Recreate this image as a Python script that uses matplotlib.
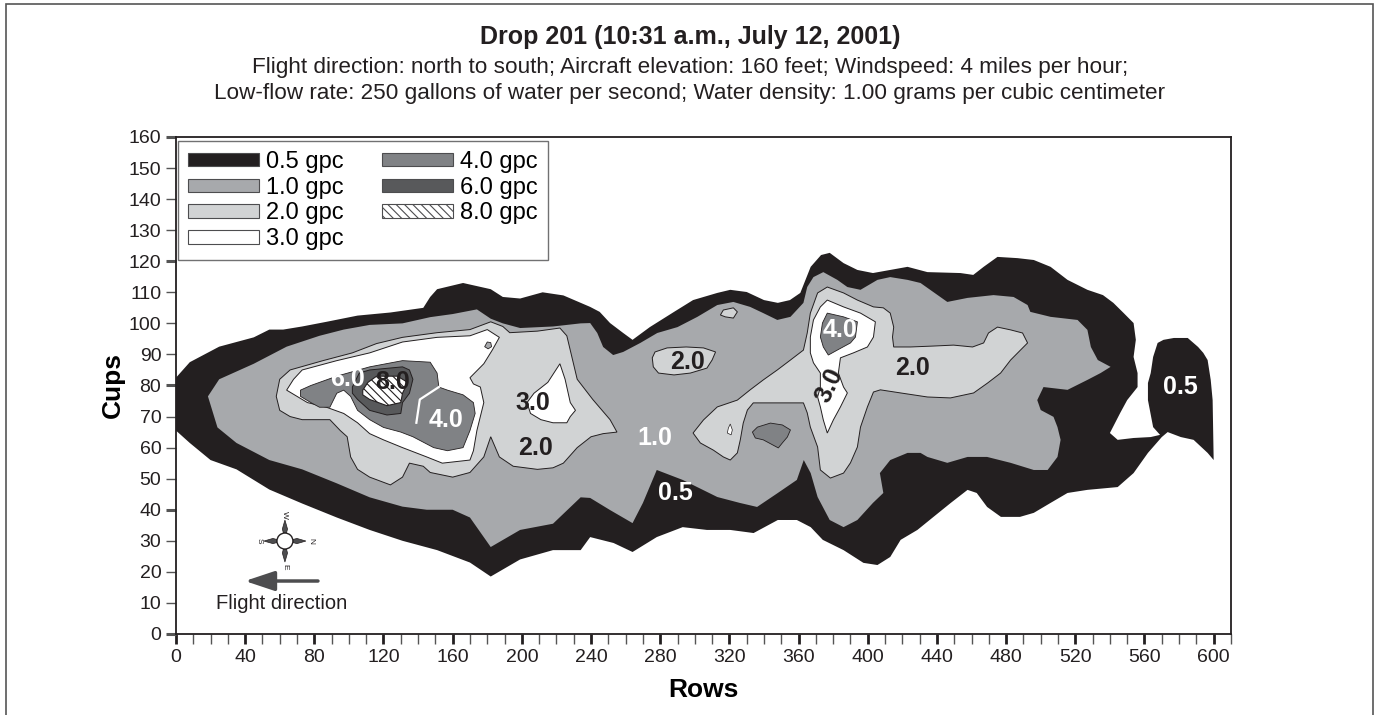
import matplotlib
matplotlib.use("Agg")
import matplotlib.pyplot as plt
from matplotlib.patches import Patch, Rectangle, Circle, Polygon

plt.rcParams["font.family"] = ["Liberation Sans", "DejaVu Sans"]
plt.rcParams["hatch.linewidth"] = 0.8

# ------------------------------------
# Contour outlines, (row, cup) pairs
# ------------------------------------
level_05 = [
    (0, 82.5), (8, 87.5), (25, 92.5), (45, 95.5), (54, 98), (62, 98), (73, 99), (87, 100.5),
    (105, 102.5), (124, 103.5), (143, 105), (147, 108.5), (151, 111), (166, 113), (182, 111),
    (189, 108.5), (199, 108), (212, 110), (224, 109), (239.5, 105.3), (245, 103.7), (251, 100.1),
    (258.6, 96.9), (264, 94.7), (274, 98.8), (288, 103.7), (299, 107.5), (313, 109.8),
    (320.5, 110.8), (330, 110.1), (340, 107.5), (348, 106.6), (355, 107.5), (361, 109.8),
    (367, 118.2), (373, 122), (378, 122.7), (386, 119.4), (394, 117.2), (403, 116.2),
    (413, 117.2), (423, 118.2), (434.5, 116.5), (453.6, 116.2), (461, 115.6), (467, 118.2),
    (475, 121.4), (486.6, 121), (496, 120.4), (505.7, 118.2), (515.5, 114), (527, 110.8),
    (536, 109.1), (542, 106.6), (548, 103.3), (553.7, 100.1), (555, 94.7), (553.7, 89.2),
    (556, 84), (556, 79.5), (550, 75.3), (546, 71.2), (540, 64.7), (544.5, 62.5),
    (553.7, 63.1), (563.6, 63.4), (569, 64.1),
    (565, 66.6), (562, 75.3), (562, 80.8), (563.6, 84), (565, 89.2), (567.6, 93.7),
    (571, 94.7), (577, 95.3), (585, 95.3), (591, 92.4), (594, 90.5), (596.5, 88.2),
    (598.3, 81.8), (599.4, 75.3), (600, 56), (596.5, 58.3), (588.4, 62.5), (581, 63.4),
    (573.4, 65), (570, 63.4),
    (562, 58.3), (553.7, 51.8), (544.5, 47.3), (527, 46.4), (515.5, 45.4), (505.7, 42.2),
    (496, 39), (488, 37.7), (477, 37.7), (469, 40.9), (463, 45.4), (457.7, 46.4), (448, 42.2),
    (438, 37.7), (428.7, 33.5), (419, 30.3), (413, 24.8), (405.6, 22.2), (397.5, 22.9),
    (386, 27), (374, 30.3), (367, 34.4), (359, 36.7), (348, 36.7), (334, 32.5), (320.5, 33.5),
    (307, 33.5), (293, 34.4), (278, 31.2), (264, 26.4), (253, 29.3), (239.5, 31.2),
    (234, 27), (218, 27), (199, 24), (182, 18.5), (170, 23), (151, 27), (131, 30),
    (112, 33.5), (93, 37.5), (73, 42), (54, 46.5), (35, 53), (20, 56), (8, 61.5), (0, 65.5),
]

level_10 = [
    (18.5, 76.5), (25, 82), (45, 87), (64, 92.5), (83, 96), (97, 98), (112, 99.5), (131, 100),
    (147, 102), (160, 103), (174, 104.5), (182, 101.5), (189, 100), (199, 98.5), (218, 99),
    (234, 100), (239.5, 100.1), (243.6, 96.9), (247, 92.4), (252.8, 89.8), (258.6, 90.8),
    (268.5, 93.7), (278.3, 96.9), (290, 98.8), (301.5, 102.1), (313, 105.9), (322.3, 106.9),
    (332, 105.3), (339.6, 103.3), (347.7, 101.1), (355.3, 102.1), (362.8, 106.6),
    (365, 111.7), (368.6, 114.9), (374.3, 116.5), (382.4, 114), (388.2, 111.7),
    (395.8, 110.8), (405.6, 114), (413, 114.9), (423, 114), (430.5, 113), (446, 106.9),
    (457.7, 108.2), (472.7, 109.1), (484.3, 108.5), (492.4, 105.9), (494, 103.7),
    (505.7, 102.1), (521.3, 101.1), (527, 97.9), (529, 92.4), (533, 88.2), (540.4, 86),
    (534.6, 84), (527, 81.8), (515.5, 78.6), (501.6, 79.5), (498, 75.3), (500, 72.1),
    (507.4, 69.9), (509.7, 66.6), (511.5, 62.5), (509.7, 57), (504, 52.8), (496, 52.8),
    (482.6, 55.1), (469, 57), (457.7, 57), (446, 55.1), (434.5, 57), (430.5, 58.3),
    (423, 58.3), (413, 56), (407, 51.8), (409, 45.4), (403, 42.2), (394, 36.7), (386, 34.4),
    (378, 36.7), (371, 44.1), (367, 51.8), (363, 56), (359, 49.6), (348, 45.4), (336, 40.9),
    (326, 42.2), (313, 44.1), (293, 49.6), (278, 52.8), (270, 42.2), (264, 35.7),
    (251, 39.9), (239.5, 43.8), (234, 44), (218, 35.5), (199, 33.5), (182, 28), (170, 37.5),
    (160, 40), (145, 40), (131, 41), (112, 44), (93, 48.5), (73, 53), (54, 56), (35, 61.5),
    (24, 66.5),
]

level_20_west = [
    (58, 76.5), (60, 82), (66, 85), (85, 88), (102, 90.5), (116, 93.5), (131, 95.5),
    (151, 97), (170, 98), (182, 100.5), (189, 99), (193, 97), (209, 97.5), (222, 98.5),
    (226, 96), (232, 82), (241, 75.5), (251, 69), (255, 65), (247, 64.5), (240, 63.5),
    (232, 60), (224, 55), (218, 53.5), (209, 53), (195, 54), (187, 57), (182, 63.5),
    (178, 57), (170, 52), (160, 50.5), (147, 52), (143, 54), (135, 55), (131, 50.5),
    (124, 48), (112, 50.5), (105, 53), (101, 57), (99, 63.5), (95, 65.5), (89, 69),
    (73, 69), (66, 70), (60, 72),
]

level_20_mid = [
    (275.4, 88.9), (277, 90.8), (284, 92.1), (295, 92.4), (305, 92.1), (312, 90.8),
    (310, 88.2), (307, 85.6), (297.4, 84), (288, 83.4), (279, 84), (276, 86),
]

level_20_dot = [
    (314.8, 102.7), (316.5, 104.3), (322.3, 105), (324.6, 103.7), (322.3, 101.7), (317.6, 102.1),
]

level_20_east = [
    (299, 64.7), (305, 68.9), (313, 73.1), (324.6, 75.3), (332, 78.6), (339.6, 81.8),
    (347.7, 85), (355.3, 88.2), (362.8, 91.4), (365, 96.9), (366.8, 103.3), (371, 109.8),
    (376.6, 111.7), (386, 109.8), (394, 107.5), (403.3, 105.3), (409, 105), (413, 103.3),
    (415, 98.8), (414.3, 95.6), (415, 92.4), (424.7, 92.4), (438, 92.7), (449.6, 93),
    (460.6, 92.4), (467, 93.7), (469.8, 96.9), (475, 98.8), (482.6, 97.9), (489.5, 96.9),
    (492.4, 93.7), (488.3, 91.4), (482.6, 88.2), (476.8, 84), (469.3, 80.8), (461.2, 77.6),
    (447.8, 76), (434.5, 76.3), (419, 77.6), (407.3, 78.6), (403.3, 77.9), (399.8, 73.1),
    (395.8, 66.6), (394, 60.2), (390, 55.1), (386, 51.8), (378.4, 50.2), (372.6, 52.8),
    (371, 60.2), (366.8, 66.6), (365, 71.2), (362.8, 74.4), (355.3, 74.4), (343.7, 74.4),
    (333.8, 74.4), (330.4, 72.1), (328, 67.9), (326.3, 62.5), (324.6, 58.3), (320.5, 56),
    (316.5, 57), (310.7, 59.2), (303.2, 61.5),
]

level_30_west = [
    (64, 78.5), (68, 82), (73, 85), (93, 88), (112, 90.5), (131, 94), (151, 95.5),
    (170, 96), (180, 98), (187, 95.5), (183, 91.5), (178, 87), (170, 82.5), (172, 80.5),
    (176, 79.5), (178, 74.5), (174, 65.5), (172, 59), (170, 56), (154, 55), (145, 57),
    (131, 60), (120, 62.5), (112, 64.5), (105, 68), (97, 71), (87, 73), (76, 74.5),
]

level_30_mid = [
    (203, 74.5), (207, 77.5), (215, 81), (222, 87), (225, 82), (228, 74.5), (231, 72),
    (228, 70), (226, 68), (218, 68), (211, 69), (205, 71),
]

level_30_east = [
    (366.8, 90.5), (366.8, 95.6), (368.6, 101.1), (372.6, 105.3), (376.6, 107.5),
    (386, 105.3), (395.8, 103.3), (404.4, 100.5), (403.3, 95.6), (399.8, 92.4),
    (391.7, 90.5), (384.2, 88.9), (383, 84), (386, 79.5), (388.2, 77.6), (384.2, 73.1),
    (380.1, 68.9), (376.6, 64.7), (374.3, 68.9), (372.6, 73.1), (371, 76.3), (372.6, 79.5),
    (372.6, 84), (368.6, 87.3),
]

level_30_sliver = [(318.8, 64.7), (319.4, 66.3), (320.5, 67.6), (321.7, 65.7), (321, 64.1)]

spot_10 = [(178.5, 92.5), (180, 94), (182, 93.8), (182.5, 92.5), (180.5, 91.8)]

level_40_west = [
    (72, 78.5), (78, 80), (93, 83), (112, 86), (131, 88), (147, 87.5), (151, 84),
    (152, 79.5), (157, 78.5), (166, 77), (172, 74.5), (173, 71), (170, 65.5), (166, 60),
    (157, 59), (149, 60), (137, 63.5), (130, 65), (120, 66.5), (112, 69), (105, 72),
    (101, 76.5), (97, 78.5), (93, 77.5), (89, 73), (83, 73), (78, 74.5), (72, 76.5),
]

level_40_east = [
    (372.6, 95.6), (373.8, 100.1), (376.6, 103.3), (386, 102.1), (394, 100.5), (392.9, 95.6),
    (390, 93.7), (382.4, 91.4), (377.2, 89.8), (374.3, 92.4),
]

level_40_dot = [
    (333.3, 65), (336.2, 66.6), (343.7, 67.9), (350.6, 67.3), (355.3, 65.7), (353.5, 63.4),
    (350.6, 61.5), (348.3, 59.9), (339.6, 62.5), (335, 63.1),
]

level_60 = [
    (102, 79.5), (106, 84), (112, 85), (131, 86), (135, 85), (137, 82), (135, 77.5),
    (131, 74.5), (130, 71), (122, 70.5), (112, 72), (105, 75.5), (102, 77.5),
]

level_80 = [
    (108, 78.5), (111, 81), (116, 83), (128, 83), (134, 81), (131, 77.5), (130, 74.5),
    (122, 73.5), (112, 75.5), (108, 77),
]

seam_line = [(152, 79.5), (141, 75.5), (139, 68)]

legend_labels = ["0.5 gpc", "1.0 gpc", "2.0 gpc", "3.0 gpc", "4.0 gpc", "6.0 gpc", "8.0 gpc"]

# value labels on the map: text, row, cup, colour, rotation
map_labels = [
    ("6.0", 99, 82, "white", 0),
    ("8.0", 125, 81, "#231f20", 0),
    ("4.0", 156, 69, "white", 0),
    ("3.0", 206.5, 74.5, "#231f20", 0),
    ("2.0", 208, 60, "#231f20", 0),
    ("1.0", 277, 63, "white", 0),
    ("2.0", 296, 87.5, "#231f20", 0),
    ("0.5", 289, 45.5, "white", 0),
    ("4.0", 384, 98, "white", 0),
    ("3.0", 378, 80, "#231f20", 65),
    ("2.0", 426, 85.5, "#231f20", 0),
    ("0.5", 581, 79.5, "white", 0),
]

C05 = "#231f20"
C10 = "#a7a9ac"
C20 = "#d1d3d4"
C30 = "#ffffff"
C40 = "#808285"
C60 = "#58595b"

# ------------------------------------
# Figure
# ------------------------------------
fig = plt.figure(figsize=(13.8, 7.15), dpi=100)
ax = fig.add_axes([0.1275, 0.1133, 0.7645, 0.6951])


def fill(pts, color, edge=None, lw=0.7, hatch=None, z=2):
    xs = [p[0] for p in pts]
    ys = [p[1] for p in pts]
    if edge is None:
        ax.fill(xs, ys, facecolor=color, edgecolor="none", zorder=z)
    else:
        ax.fill(xs, ys, facecolor=color, edgecolor=edge, linewidth=lw, hatch=hatch, zorder=z)


fill(level_05, C05)
fill(level_10, C10, z=3)
for poly in (level_20_west, level_20_mid, level_20_dot, level_20_east):
    fill(poly, C20, edge="#231f20", z=4)
for poly in (level_30_west, level_30_mid, level_30_east):
    fill(poly, C30, edge="#231f20", z=5)
fill(spot_10, C10, edge="#231f20", lw=0.6, z=6)
fill(level_30_sliver, C30, edge="#231f20", lw=0.5, z=6)
for poly in (level_40_west, level_40_east, level_40_dot):
    fill(poly, C40, edge="#231f20", lw=0.6, z=6)
fill(level_60, C60, edge="#231f20", z=7)
fill(level_80, "white", edge="#231f20", lw=0.8, hatch="\\\\\\\\", z=8)
ax.plot([p[0] for p in seam_line], [p[1] for p in seam_line], color="white", lw=1.6, zorder=7)

for txt, r, c, col, rot in map_labels:
    ax.text(r, c, txt, color=col, fontsize=18, fontweight="bold", ha="center", va="center",
            rotation=rot, zorder=10)

# ------------------------------------
# Axes styling
# ------------------------------------
ax.set_xlim(0, 610)
ax.set_ylim(0, 160)
ax.set_xticks(range(0, 601, 40))
ax.set_xticks(range(0, 611, 10), minor=True)
ax.set_yticks(range(0, 161, 10))
ax.tick_params(axis="both", which="both", direction="out", length=7, labelsize=14,
               colors="#231f20", labelcolor="#231f20")
ax.tick_params(axis="x", which="major", width=2)
ax.tick_params(axis="x", which="minor", width=1, colors="#555555")
ax.tick_params(axis="y", which="major", width=1, colors="#555555", labelcolor="#231f20")
for val, tick in zip(range(0, 161, 10), ax.yaxis.get_major_ticks()):
    if val % 40 == 0:
        tick.tick1line.set_markeredgewidth(2.2)
        tick.tick1line.set_color("#231f20")
for sp in ax.spines.values():
    sp.set_linewidth(1.3)
    sp.set_color("#231f20")

ax.set_xlabel("Rows", fontsize=19, fontweight="bold", labelpad=9)
ax.set_ylabel("Cups", fontsize=19, fontweight="bold", labelpad=3)

# legend
face = [C05, C10, C20, C30, C40, C60, "white"]
handles = []
for i, lab in enumerate(legend_labels):
    h = Patch(facecolor=face[i], edgecolor="#4d4d4f", linewidth=0.8, label=lab,
              hatch="\\\\\\\\" if lab.startswith("8") else None)
    handles.append(h)
leg = ax.legend(handles=handles, ncol=2, loc="upper left", bbox_to_anchor=(0.002, 0.992),
                fontsize=17, frameon=True, fancybox=False, handlelength=3.0, handleheight=0.5,
                handletextpad=0.3, labelspacing=0.16, columnspacing=1.65, borderpad=0.42,
                borderaxespad=0.0)
leg.get_frame().set_edgecolor("#4d4d4f")
leg.get_frame().set_linewidth(1.0)
leg.set_zorder(20)

# flight direction arrow and compass
ax.annotate("", xy=(0.0654, 0.1066), xytext=(0.1346, 0.1066), xycoords="axes fraction",
            arrowprops=dict(arrowstyle="-|>,head_length=0.9,head_width=0.3", lw=2.5,
                            color="#4d4d4f", mutation_scale=20, shrinkA=0, shrinkB=0))
ax.text(0.1005, 0.0604, "Flight direction", transform=ax.transAxes, fontsize=14.5,
        ha="center", va="center", color="#231f20")

cax = fig.add_axes([285 / 1380 - 0.0254, 1 - 541 / 715 - 0.049, 0.0507, 0.0979])
cax.set_xlim(-35, 35)
cax.set_ylim(-35, 35)
cax.axis("off")
for dx, dy in [(0, 1), (1, 0), (0, -1), (-1, 0)]:
    px, py = -dy, dx
    spike = [(8 * dx + 1.5 * px, 8 * dy + 1.5 * py), (12 * dx + 2.6 * px, 12 * dy + 2.6 * py),
             (21 * dx, 21 * dy), (12 * dx - 2.6 * px, 12 * dy - 2.6 * py),
             (8 * dx - 1.5 * px, 8 * dy - 1.5 * py)]
    cax.add_patch(Polygon(spike, closed=True, facecolor="#4d4d4f", edgecolor="#231f20", lw=0.5))
cax.add_patch(Circle((0, 0), 8, facecolor="white", edgecolor="#231f20", lw=1.0))
for lab, x, y in [("W", 0, 26), ("N", 26, 0), ("E", 0, -26), ("S", -26, 0)]:
    cax.text(x, y, lab, fontsize=6, rotation=-90, ha="center", va="center", color="#231f20")

# titles
fig.text(0.5, 1 - 37 / 715, "Drop 201 (10:31 a.m., July 12, 2001)", fontsize=18,
         fontweight="bold", ha="center", va="center", color="#231f20")
fig.text(0.5, 1 - 67 / 715,
         "Flight direction: north to south; Aircraft elevation: 160 feet; Windspeed: 4 miles per hour;",
         fontsize=16.2, ha="center", va="center", color="#231f20")
fig.text(0.5, 1 - 93 / 715,
         "Low-flow rate: 250 gallons of water per second; Water density: 1.00 grams per cubic centimeter",
         fontsize=16.2, ha="center", va="center", color="#231f20")

fig.add_artist(Rectangle((6 / 1380, -0.05), 1367 / 1380, 1.05 - 4 / 715, transform=fig.transFigure,
                         fill=False, edgecolor="#555555", linewidth=1.2))

fig.savefig("out.png", dpi=100)
